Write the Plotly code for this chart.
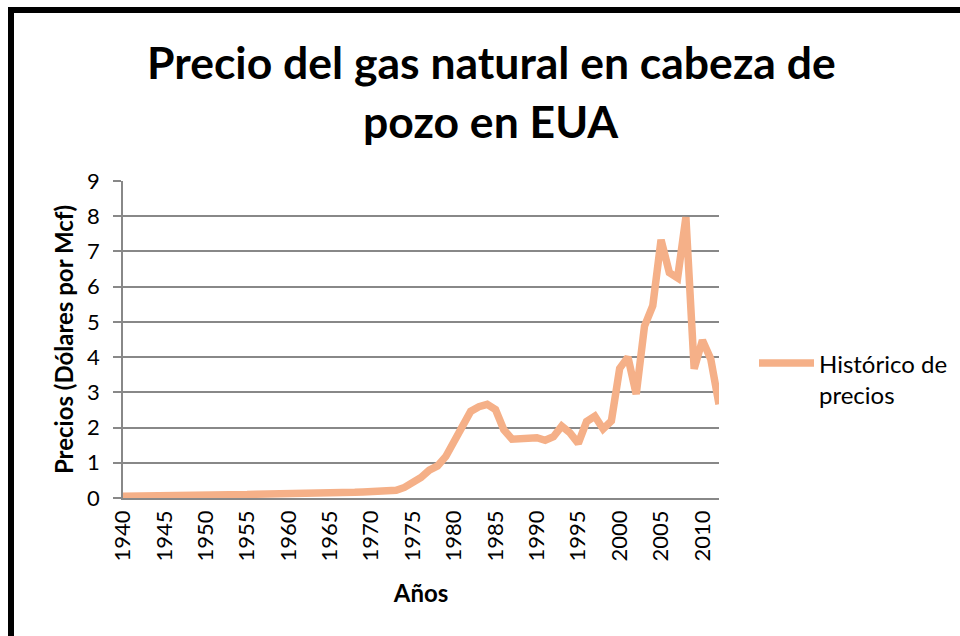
import plotly.graph_objects as go

# ---- data -------------------------------------------------------------
years = list(range(1940, 2013))
prices = [
    0.05, 0.05, 0.05, 0.05, 0.05, 0.05, 0.05, 0.06, 0.07, 0.06,   # 1940-1949
    0.07, 0.07, 0.08, 0.09, 0.10, 0.10, 0.11, 0.11, 0.12, 0.13,   # 1950-1959
    0.14, 0.15, 0.16, 0.16, 0.15, 0.16, 0.16, 0.16, 0.16, 0.17,   # 1960-1969
    0.17, 0.18, 0.19, 0.22, 0.30, 0.44, 0.58, 0.79, 0.91, 1.18,   # 1970-1979
    1.59, 1.98, 2.46, 2.59, 2.66, 2.51, 1.94, 1.67, 1.69, 1.69,   # 1980-1989
    1.71, 1.64, 1.74, 2.04, 1.85, 1.55, 2.17, 2.32, 1.96, 2.19,   # 1990-1999
    3.68, 4.00, 2.95, 4.88, 5.46, 7.33, 6.40, 6.25, 7.97, 3.67,   # 2000-2009
    4.48, 3.95, 2.66,                                             # 2010-2012
]
tick_years = list(range(1940, 2011, 5))
tick_labels = [str(y) for y in tick_years]
y_ticks = list(range(0, 10))

series_name = "Histórico de<br>precios"
title_line1 = "Precio del gas natural en cabeza de"
title_line2 = "pozo en EUA"

# ---- style ------------------------------------------------------------
LINE_COLOR = "#F5B088"
GRID = "#888888"
FONT = "Lato"
W, H = 960, 636
L, R, T, B = 123, 241, 181, 138
PW, PH = W - L - R, H - T - B


def px2paper_x(px):
    return (px - L) / PW


def px2paper_y(py):
    return (H - B - py) / PH


fig = go.Figure()
fig.add_trace(go.Scatter(
    x=years, y=prices, mode="lines", name=series_name,
    line=dict(color=LINE_COLOR, width=7.5),
    showlegend=False,
))

fig.update_layout(
    width=W, height=H,
    margin=dict(l=L, r=R, t=T, b=B, pad=0),
    paper_bgcolor="white", plot_bgcolor="white",
    font=dict(family=FONT, size=22, color="#000000"),
    showlegend=False,
    xaxis=dict(
        range=[1940, 2012],
        tickmode="array", tickvals=tick_years, ticktext=tick_labels,
        tickangle=-90, tickfont=dict(size=22, family=FONT),
        showgrid=False, zeroline=False,
        showline=True, linecolor=GRID, linewidth=1.5,
        ticks="", ticklabelstandoff=2,
        title=dict(text="<b>Años</b>", font=dict(size=24, family=FONT), standoff=25),
    ),
    yaxis=dict(
        range=[0, 9], tickmode="array", tickvals=y_ticks,
        tickfont=dict(size=22, family=FONT),
        showgrid=True, gridcolor=GRID, gridwidth=1.5,
        zeroline=False,
        showline=True, linecolor=GRID, linewidth=1.5,
        ticks="outside", ticklen=8, tickcolor=GRID, tickwidth=1.5,
        ticklabelstandoff=9,
        title=dict(text="<b>Precios (Dólares por Mcf)</b>",
                   font=dict(size=24, family=FONT), standoff=7),
    ),
)

# title (two lines, Excel-like spacing)
fig.add_annotation(text="<b>" + title_line1 + "</b>", xref="paper", yref="paper",
                   x=px2paper_x(491), y=px2paper_y(62), xanchor="center", yanchor="middle",
                   showarrow=False, font=dict(family=FONT, size=44.5, color="#000000"))
fig.add_annotation(text="<b>" + title_line2 + "</b>", xref="paper", yref="paper",
                   x=px2paper_x(491), y=px2paper_y(120), xanchor="center", yanchor="middle",
                   showarrow=False, font=dict(family=FONT, size=44.5, color="#000000"))

# legend (drawn manually so the swatch matches the long Excel sample line)
fig.add_shape(type="line", xref="paper", yref="paper",
              x0=px2paper_x(759), x1=px2paper_x(814),
              y0=px2paper_y(363), y1=px2paper_y(363),
              line=dict(color=LINE_COLOR, width=7.5))
fig.add_annotation(text=series_name, xref="paper", yref="paper",
                   x=px2paper_x(817), y=px2paper_y(363), xanchor="left", yanchor="top",
                   yshift=16, align="left", showarrow=False,
                   font=dict(family=FONT, size=24, color="#000000"))

# outer chart frame (only top and left edges fall inside the image)
fig.add_shape(type="rect", xref="paper", yref="paper",
              x0=px2paper_x(11), x1=px2paper_x(W + 20),
              y0=px2paper_y(H + 20), y1=px2paper_y(10),
              line=dict(color="#000000", width=6), layer="above")

fig.write_html("out.html", config={"displayModeBar": False},
               post_script="document.body.style.margin='0';document.body.style.padding='0';")
